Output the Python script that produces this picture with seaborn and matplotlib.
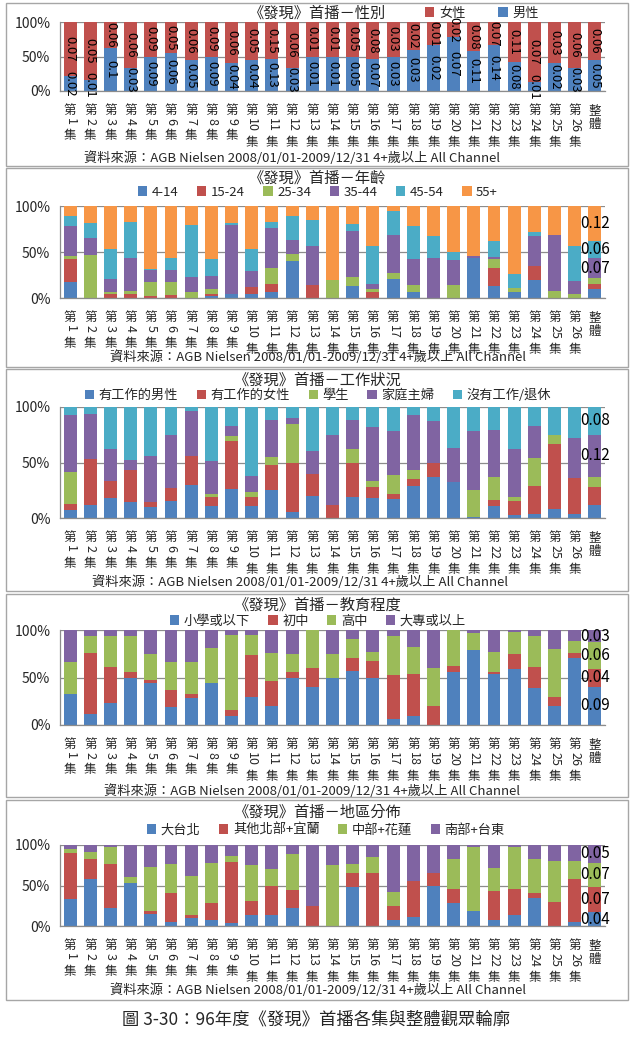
import numpy as np
import matplotlib
matplotlib.use("Agg")
import matplotlib.pyplot as plt
import seaborn as sns
import pandas as pd
from matplotlib.patches import Patch, Rectangle
from matplotlib.transforms import blended_transform_factory, offset_copy

sns.set_theme(style="white")
plt.rcParams['font.family'] = ['Noto Sans CJK TC', 'DejaVu Sans']

# ---------------- data ----------------
episodes = [f"第{i}集" for i in range(1, 27)] + ["整體"]

source_text = "資料來源：AGB Nielsen 2008/01/01-2009/12/31 4+歲以上 All Channel"
caption = "圖 3-30：96年度《發現》首播各集與整體觀眾輪廓"

# Gender (ratings shown as data labels)
gender_title = "《發現》首播－性別"
gender_series = ["男性", "女性"]
male = [0.02, 0.01, 0.1, 0.03, 0.09, 0.06, 0.05, 0.09, 0.04, 0.04, 0.13, 0.03, 0.01,
        0.01, 0.05, 0.07, 0.03, 0.03, 0.02, 0.07, 0.11, 0.14, 0.08, 0.01, 0.02, 0.03, 0.05]
female = [0.07, 0.05, 0.06, 0.06, 0.09, 0.05, 0.06, 0.09, 0.06, 0.05, 0.15, 0.06, 0.01,
          0.01, 0.05, 0.08, 0.03, 0.02, 0.01, 0.02, 0.08, 0.07, 0.11, 0.07, 0.03, 0.06, 0.06]

# Age (% share)
age_title = "《發現》首播－年齡"
age_series = ["4-14", "15-24", "25-34", "35-44", "45-54", "55+"]
age_4_14 = [17, 0, 0, 0, 0, 0, 0, 2, 4, 4, 7, 40, 0, 0, 13, 0, 21, 7, 0, 0, 44, 13, 6, 20, 0, 0, 10]
age_15_24 = [25, 0, 4, 4, 2, 3, 0, 2, 0, 8, 8, 0, 14, 0, 0, 7, 0, 0, 0, 0, 0, 20, 0, 15, 0, 0, 5]
age_25_34 = [4, 47, 2, 4, 15, 14, 6, 6, 0, 0, 18, 8, 0, 20, 10, 3, 6, 7, 0, 14, 0, 9, 5, 0, 8, 4, 7]
age_35_44 = [32, 18, 15, 36, 13, 13, 17, 14, 75, 17, 43, 15, 42, 0, 50, 5, 41, 28, 44, 27, 2, 3, 0, 32, 61, 14, 21]
age_45_54 = [11, 17, 32, 39, 1, 13, 56, 18, 3, 24, 7, 26, 29, 0, 7, 41, 27, 36, 23, 9, 0, 17, 15, 5, 0, 38, 19]
age_55p = [11, 18, 47, 17, 69, 57, 21, 58, 18, 47, 17, 11, 15, 80, 20, 44, 5, 22, 33, 50, 54, 38, 74, 28, 31, 44, 38]
age_overall_labels = [None, None, None, "0.07", "0.06", "0.12"]

# Occupation (% share)
job_title = "《發現》首播－工作狀況"
job_series = ["有工作的男性", "有工作的女性", "學生", "家庭主婦", "沒有工作/退休"]
job_male = [7, 12, 18, 14, 10, 15, 30, 11, 26, 11, 25, 5, 20, 0, 19, 18, 17, 29, 37, 32, 1, 11, 3, 4, 8, 4, 12]
job_female = [6, 41, 15, 29, 4, 12, 26, 8, 43, 8, 23, 45, 20, 12, 31, 10, 5, 6, 13, 0, 0, 5, 12, 25, 59, 32, 16]
job_student = [28, 0, 0, 0, 0, 0, 0, 3, 5, 4, 7, 35, 0, 0, 12, 5, 17, 8, 0, 0, 24, 21, 4, 25, 8, 0, 9]
job_housewife = [52, 41, 29, 9, 42, 48, 40, 29, 9, 15, 33, 5, 20, 63, 26, 49, 39, 50, 37, 31, 53, 42, 43, 29, 0, 36, 38]
job_none = [7, 6, 38, 48, 44, 25, 4, 49, 17, 62, 12, 10, 40, 25, 12, 18, 22, 7, 13, 37, 22, 21, 38, 17, 25, 28, 25]
job_overall_labels = [None, None, None, "0.12", "0.08"]

# Education (% share)
edu_title = "《發現》首播－教育程度"
edu_series = ["小學或以下", "初中", "高中", "大專或以上"]
edu_primary = [33, 12, 23, 50, 44, 19, 28, 44, 10, 30, 20, 50, 40, 50, 57, 50, 6, 9, 0, 56, 79, 54, 59, 39, 20, 71, 40]
edu_junior = [0, 64, 38, 6, 3, 18, 5, 0, 6, 44, 26, 6, 20, 0, 14, 17, 47, 45, 20, 6, 0, 2, 16, 22, 10, 5, 19]
edu_senior = [33, 18, 33, 38, 28, 29, 33, 37, 79, 21, 30, 19, 40, 25, 20, 10, 41, 28, 40, 38, 18, 21, 23, 33, 50, 12, 28]
edu_college = [34, 6, 6, 6, 25, 34, 34, 19, 5, 5, 24, 25, 0, 25, 9, 23, 6, 18, 40, 0, 3, 23, 2, 6, 20, 12, 13]
edu_overall_labels = ["0.09", "0.04", "0.06", "0.03"]

# Region (% share)
reg_title = "《發現》首播－地區分佈"
reg_series = ["大台北", "其他北部+宜蘭", "中部+花蓮", "南部+台東"]
reg_taipei = [33, 58, 22, 53, 15, 5, 10, 8, 4, 13, 13, 22, 0, 0, 48, 0, 8, 11, 49, 29, 19, 7, 14, 35, 0, 5, 17]
reg_north = [57, 25, 55, 0, 3, 36, 4, 21, 75, 18, 36, 23, 25, 0, 18, 66, 17, 44, 17, 17, 0, 36, 32, 6, 30, 53, 31]
reg_central = [5, 8, 20, 7, 55, 36, 48, 49, 8, 44, 21, 44, 0, 75, 10, 19, 17, 0, 0, 37, 79, 28, 52, 42, 50, 22, 30]
reg_south = [5, 9, 3, 40, 27, 23, 38, 22, 13, 25, 30, 11, 75, 25, 24, 15, 58, 45, 34, 17, 2, 29, 2, 17, 20, 20, 22]
reg_overall_labels = ["0.04", "0.07", "0.07", "0.05"]

# ---------------- style ----------------
BLUE, RED, GREEN, PURPLE, AQUA, ORANGE = "#4F81BD", "#C0504D", "#9BBB59", "#8064A2", "#4BACC6", "#F79646"
GRID = "#8c8c8c"
W, H = 633, 1045

fig = plt.figure(figsize=(W / 100, H / 100), dpi=100)
fig.patch.set_facecolor("white")


def fx(px):
    return px / W


def fy(px):
    return 1 - px / H


AX_L, AX_R = 60, 605
TICK_FS = 9


def make_axes(top, bottom):
    return fig.add_axes([fx(AX_L), fy(bottom), fx(AX_R - AX_L), (bottom - top) / H])


def draw_stacked(ax, segs, colors):
    arr = np.array(segs, dtype=float)
    shares = arr / arr.sum(axis=0) * 100
    cum = np.cumsum(shares, axis=0)
    for k in range(len(arr) - 1, -1, -1):
        df = pd.DataFrame({"cat": episodes, "val": cum[k]})
        sns.barplot(data=df, x="cat", y="val", order=episodes, color=colors[k],
                    width=0.64, saturation=1, errorbar=None, linewidth=0, ax=ax)
    return shares, cum


def vertical_labels(ax):
    """Excel-style vertical category labels: CJK stacked, digits rotated."""
    base = blended_transform_factory(ax.transData, ax.transAxes)

    def tr(off):
        return offset_copy(base, fig=fig, x=0, y=-off, units="dots")

    for i, cat in enumerate(episodes):
        if cat.startswith("第"):
            num = cat[1:-1]
            ax.text(i, 0, "第", transform=tr(13), ha="center", va="top", fontsize=TICK_FS, clip_on=False)
            ax.text(i, 0, num, transform=tr(27), ha="center", va="top", rotation=270,
                    fontsize=TICK_FS, clip_on=False)
            ax.text(i, 0, "集", transform=tr(30 + 6.5 * len(num) + 2), ha="center", va="top",
                    fontsize=TICK_FS, clip_on=False)
        else:
            for j, ch in enumerate(cat):
                ax.text(i, 0, ch, transform=tr(13 + 14 * j), ha="center", va="top",
                        fontsize=TICK_FS, clip_on=False)


def style_axes(ax):
    ax.set_xlim(-0.5, len(episodes) - 0.5)
    ax.set_ylim(0, 100)
    ax.set_yticks([0, 50, 100])
    ax.set_yticklabels(["0%", "50%", "100%"], fontsize=10)
    ax.yaxis.grid(True, color=GRID, lw=0.9)
    ax.set_axisbelow(True)
    ax.set_xlabel("")
    ax.set_ylabel("")
    for s in ["top", "right"]:
        ax.spines[s].set_visible(False)
    for s in ["left", "bottom"]:
        ax.spines[s].set_color(GRID)
        ax.spines[s].set_linewidth(0.9)
    ax.set_xticks(range(len(episodes)))
    ax.set_xticklabels([""] * len(episodes))
    ax.set_xticks(np.arange(-0.5, len(episodes)), minor=True)
    ax.tick_params(axis="x", which="major", length=0)
    ax.tick_params(axis="x", which="minor", length=5, color=GRID, width=0.9, direction="out")
    ax.tick_params(axis="y", which="major", length=5, color=GRID, width=0.9, direction="out", pad=2)
    ax.patch.set_alpha(0)
    vertical_labels(ax)


def add_legend(names, colors, cx, cy, order=None, colsp=1.4):
    idx = order if order is not None else range(len(names))
    handles = [Patch(facecolor=colors[i], edgecolor="none") for i in idx]
    labels = [names[i] for i in idx]
    fig.legend(handles, labels, loc="center", bbox_to_anchor=(fx(cx), fy(cy)), ncol=len(labels),
               frameon=False, fontsize=9.5, handlelength=0.7, handleheight=0.7,
               handletextpad=0.35, columnspacing=colsp, borderaxespad=0, borderpad=0)


def panel_box(top, bottom):
    fig.patches.append(Rectangle((fx(6), fy(bottom)), fx(622), (bottom - top) / H,
                                 transform=fig.transFigure, fill=False, ec="#a6a6a6", lw=1.0))


def overall_labels(ax, shares, cum, labels):
    i = len(episodes) - 1
    for k, lab in enumerate(labels):
        if lab is None:
            continue
        c = cum[k, i] - shares[k, i] / 2
        ax.text(i, c, lab, ha="center", va="center", fontsize=11, color="black", zorder=5)


# ---------------- panel 1: gender ----------------
panel_box(3, 166)
ax1 = make_axes(22, 91)
sh, cm = draw_stacked(ax1, [male, female], [BLUE, RED])
style_axes(ax1)
vals = [male, female]
for k in range(2):
    for i in range(len(episodes)):
        c = cm[k, i] - sh[k, i] / 2
        ax1.text(i, c, f"{vals[k][i]:g}", rotation=270, ha="center", va="center",
                 fontsize=9.5, color="black", zorder=5)
fig.text(fx(318), fy(13), gender_title, ha="center", va="center", fontsize=11)
add_legend(gender_series, [BLUE, RED], 482, 13, order=[1, 0], colsp=2.5)
fig.text(fx(292), fy(158), source_text, ha="center", va="center", fontsize=9.5)

# ---------------- panel 2: age ----------------
panel_box(168, 367)
ax2 = make_axes(206, 298)
colors2 = [BLUE, RED, GREEN, PURPLE, AQUA, ORANGE]
sh, cm = draw_stacked(ax2, [age_4_14, age_15_24, age_25_34, age_35_44, age_45_54, age_55p], colors2)
style_axes(ax2)
overall_labels(ax2, sh, cm, age_overall_labels)
fig.text(fx(318), fy(178), age_title, ha="center", va="center", fontsize=11)
add_legend(age_series, colors2, 318, 192)
fig.text(fx(318), fy(357), source_text, ha="center", va="center", fontsize=9.5)

# ---------------- panel 3: occupation ----------------
panel_box(369, 591)
ax3 = make_axes(407, 518)
colors3 = [BLUE, RED, GREEN, PURPLE, AQUA]
sh, cm = draw_stacked(ax3, [job_male, job_female, job_student, job_housewife, job_none], colors3)
style_axes(ax3)
overall_labels(ax3, sh, cm, job_overall_labels)
fig.text(fx(318), fy(380), job_title, ha="center", va="center", fontsize=11)
add_legend(job_series, colors3, 318, 395)
fig.text(fx(300), fy(582), source_text, ha="center", va="center", fontsize=9.5)

# ---------------- panel 4: education ----------------
panel_box(594, 797)
ax4 = make_axes(630, 725)
colors4 = [BLUE, RED, GREEN, PURPLE]
sh, cm = draw_stacked(ax4, [edu_primary, edu_junior, edu_senior, edu_college], colors4)
style_axes(ax4)
overall_labels(ax4, sh, cm, edu_overall_labels)
fig.text(fx(318), fy(605), edu_title, ha="center", va="center", fontsize=11)
add_legend(edu_series, colors4, 318, 621)
fig.text(fx(312), fy(791), source_text, ha="center", va="center", fontsize=9.5)

# ---------------- panel 5: region ----------------
panel_box(800, 1000)
ax5 = make_axes(845, 926)
colors5 = [BLUE, RED, GREEN, PURPLE]
sh, cm = draw_stacked(ax5, [reg_taipei, reg_north, reg_central, reg_south], colors5)
style_axes(ax5)
overall_labels(ax5, sh, cm, reg_overall_labels)
fig.text(fx(318), fy(812), reg_title, ha="center", va="center", fontsize=11)
add_legend(reg_series, colors5, 326, 830)
fig.text(fx(318), fy(990), source_text, ha="center", va="center", fontsize=9.5)

fig.text(fx(316), fy(1020), caption, ha="center", va="center", fontsize=12.5)

fig.savefig("out.png", dpi=100, facecolor="white")
